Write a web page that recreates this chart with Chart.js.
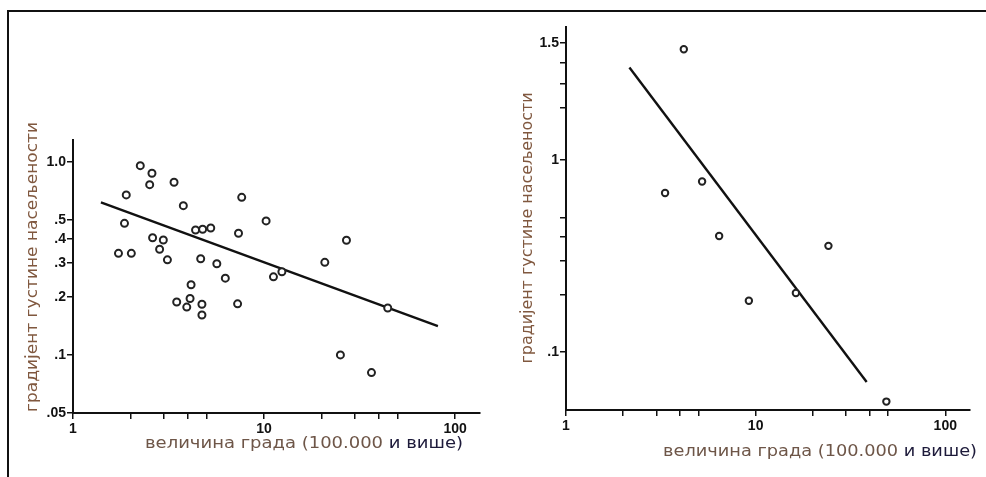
<!DOCTYPE html>
<html>
<head>
<meta charset="utf-8">
<script src="https://cdn.jsdelivr.net/npm/chart.js@4.4.1/dist/chart.umd.min.js"></script>
<style>
    body { margin: 0; background: #fff; }
    #wrap { position: relative; width: 986px; height: 477px; overflow: hidden; }
    #frame { position: absolute; left: 7px; top: 10px; width: 980px; height: 470px;
             border-top: 2px solid #111; border-left: 2px solid #111; }
    canvas { position: absolute; left: 0; top: 0; }
</style>
</head>
<body>
<div id="wrap">
    <div id="frame"></div>
    <canvas id="leftChart" width="986" height="477"></canvas>
    <canvas id="rightChart" width="986" height="477"></canvas>
</div>
<script>
// ================= DATA =================
// left panel: city size (100 000s) vs density gradient
const leftCitySize = [2.25, 2.59, 2.52, 3.38, 1.90, 3.78, 7.64, 1.86, 10.25, 4.38, 4.77, 5.26,
    7.35, 2.61, 2.97, 27.0, 2.84, 1.73, 2.02, 3.12, 4.66, 5.66, 20.8, 6.27, 11.2, 12.4,
    4.15, 3.49, 4.10, 3.94, 4.73, 4.73, 7.27, 44.4, 25.1, 36.5];
const leftGradient = [0.957, 0.874, 0.763, 0.785, 0.675, 0.594, 0.656, 0.481, 0.495, 0.444, 0.448, 0.455,
    0.427, 0.405, 0.394, 0.393, 0.353, 0.336, 0.336, 0.311, 0.315, 0.297, 0.302, 0.250, 0.254, 0.270,
    0.231, 0.188, 0.196, 0.177, 0.183, 0.161, 0.184, 0.175, 0.100, 0.081];
const leftFitX = [1.40, 81.3];
const leftFitY = [0.618, 0.141];

// right panel
const rightCitySize = [4.18, 3.33, 5.22, 6.42, 24.2, 9.21, 16.3, 48.9];
const rightGradient = [1.467, 0.672, 0.772, 0.402, 0.357, 0.185, 0.203, 0.0553];
const rightFitX = [2.16, 38.5];
const rightFitY = [1.377, 0.070];

// axes
const xTickValues = [1, 2, 3, 4, 5, 10, 20, 30, 40, 50, 100];
const xTickLabels = { 1: '1', 10: '10', 100: '100' };
const leftYTickValues = [0.05, 0.1, 0.2, 0.3, 0.4, 0.5, 1];
const leftYTickLabels = { 0.05: '.05', 0.1: '.1', 0.2: '.2', 0.3: '.3', 0.4: '.4', 0.5: '.5', 1: '1.0' };
const rightYTickValues = [0.1, 0.2, 0.3, 0.4, 0.5, 1, 1.2, 1.3, 1.4, 1.5];
const rightYTickLabels = { 0.1: '.1', 1: '1', 1.5: '1.5' };

const yTitle = 'градијент густине насељености';
const xTitleA = 'величина града (100.000 ';
const xTitleB = 'и више)';

// ================= BENT LOG SCALE =================
// the right panel's y axis is stretched above 1 (1 -> 1.5 takes most of the top)
const K_UPPER = 3.455;

class BentLogScale extends Chart.LogarithmicScale {
    getPixelForValue(v) {
        return super.getPixelForValue(v > 1 ? Math.pow(v, K_UPPER) : v);
    }
    getValueForPixel(p) {
        const v = super.getValueForPixel(p);
        return v > 1 ? Math.pow(v, 1 / K_UPPER) : v;
    }
}
BentLogScale.id = 'bentlog';
BentLogScale.defaults = Chart.LogarithmicScale.defaults;
Chart.register(BentLogScale);

// ================= HELPER =================
function toPoints(xs, ys) {
    return xs.map((x, i) => ({ x: x, y: ys[i] }));
}

function captionPlugin(c) {
    return {
        id: 'captions',
        afterDraw(chart) {
            const ctx = chart.ctx;
            ctx.save();
            ctx.font = '16px "DejaVu Sans"';
            ctx.textBaseline = 'middle';

            // y title (rotated)
            const w = ctx.measureText(yTitle).width;
            ctx.save();
            ctx.translate(c.yx, c.yy);
            ctx.rotate(-Math.PI / 2);
            ctx.scale(c.yLen / w, 1);
            ctx.textAlign = 'center';
            ctx.fillStyle = '#80583f';
            ctx.fillText(yTitle, 0, 0);
            ctx.restore();

            // x title, two colours
            const wa = ctx.measureText(xTitleA).width;
            const wb = ctx.measureText(xTitleB).width;
            ctx.save();
            ctx.translate(c.xx, c.xy);
            ctx.scale(c.xLen / (wa + wb), 1);
            ctx.textAlign = 'left';
            ctx.fillStyle = '#6e5648';
            ctx.fillText(xTitleA, 0, 0);
            ctx.fillStyle = '#1d1a3a';
            ctx.fillText(xTitleB, wa, 0);
            ctx.restore();

            ctx.restore();
        }
    };
}

function axisX(max, height) {
    return {
        type: 'logarithmic',
        min: 1,
        max: max,
        afterBuildTicks: s => { s.ticks = xTickValues.map(v => ({ value: v })); },
        afterFit: s => { s.height = height; },
        border: { display: true, color: '#111', width: 2 },
        grid: { drawOnChartArea: false, drawTicks: true, tickLength: 6, color: '#111', lineWidth: 1.5 },
        ticks: {
            autoSkip: false, maxRotation: 0, padding: 2,
            color: '#111', font: { family: 'Liberation Sans', size: 14, weight: 'bold' },
            callback: v => xTickLabels[v] || ''
        }
    };
}

function axisY(type, min, max, values, labels, width) {
    return {
        type: type,
        min: min,
        max: max,
        afterBuildTicks: s => { s.ticks = values.map(v => ({ value: v })); },
        afterFit: s => { s.width = width; },
        border: { display: true, color: '#111', width: 2 },
        grid: { drawOnChartArea: false, drawTicks: true, tickLength: 6, color: '#111', lineWidth: 1.5 },
        ticks: {
            autoSkip: false, padding: 1,
            color: '#111', font: { family: 'Liberation Sans', size: 14, weight: 'bold' },
            callback: v => labels[v] || ''
        }
    };
}

function makeChart(id, pts, fit, radius, scales, padding, caption) {
    new Chart(document.getElementById(id), {
        type: 'scatter',
        data: {
            datasets: [{
                data: pts,
                pointRadius: radius,
                pointBorderWidth: 2,
                borderColor: '#222',
                backgroundColor: '#fff'
            }, {
                data: fit,
                showLine: true,
                pointRadius: 0,
                borderColor: '#111',
                borderWidth: 2.4
            }]
        },
        options: {
            responsive: false,
            animation: false,
            layout: { padding: padding },
            plugins: { legend: { display: false }, tooltip: { enabled: false } },
            scales: scales
        },
        plugins: [captionPlugin(caption)]
    });
}

// ================= CHARTS =================
makeChart('leftChart',
    toPoints(leftCitySize, leftGradient),
    toPoints(leftFitX, leftFitY),
    3.5,
    { x: axisX(135, 64), y: axisY('logarithmic', 0.05, 1.3, leftYTickValues, leftYTickLabels, 73) },
    { left: 0, top: 140, right: 506, bottom: 0 },
    { yx: 33, yy: 267, yLen: 290, xx: 145, xy: 444, xLen: 318 }
);

makeChart('rightChart',
    toPoints(rightCitySize, rightGradient),
    toPoints(rightFitX, rightFitY),
    3.2,
    { x: axisX(135, 67), y: axisY('bentlog', 0.05, Math.pow(1.585, K_UPPER), rightYTickValues, rightYTickLabels, 46) },
    { left: 520, top: 27, right: 16, bottom: 0 },
    { yx: 528, yy: 228, yLen: 271, xx: 663, xy: 452, xLen: 314 }
);
</script>
</body>
</html>
